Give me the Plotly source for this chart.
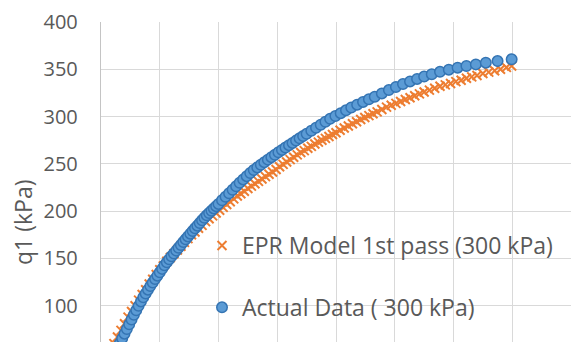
import plotly.graph_objects as go

# Actual Data (300 kPa)
actual_x = [0.32, 0.36, 0.40, 0.44, 0.48, 0.52, 0.56, 0.60, 0.64, 0.68, 0.72, 0.76,
            0.80, 0.84, 0.88, 0.92, 0.96, 1.00, 1.04, 1.08, 1.12, 1.16, 1.20, 1.24,
            1.28, 1.32, 1.36, 1.40, 1.44, 1.48, 1.52, 1.56, 1.60, 1.64, 1.68, 1.72,
            1.76, 1.80, 1.84, 1.88, 1.92, 1.96, 2.00, 2.06, 2.12, 2.18, 2.24, 2.30,
            2.36, 2.42, 2.48, 2.54, 2.60, 2.66, 2.72, 2.78, 2.84, 2.90, 2.96, 3.02,
            3.08, 3.14, 3.20, 3.26, 3.32, 3.38, 3.44, 3.50, 3.58, 3.66, 3.74, 3.82,
            3.90, 3.99, 4.08, 4.17, 4.26, 4.36, 4.46, 4.56, 4.66, 4.78, 4.90, 5.02,
            5.14, 5.26, 5.38, 5.50, 5.63, 5.77, 5.92, 6.07, 6.22, 6.38, 6.55, 6.75,
            6.99]
actual_y = [60.5, 65.5, 70.5, 75.5, 80.5, 85.5, 90.5, 95.2, 99.9, 104.6, 109, 113,
            117, 120.8, 124.5, 128.2, 131.8, 135.4, 139, 142.8, 146, 149.2, 152.3, 155.3,
            158.3, 161.3, 164.3, 167.3, 170.3, 173.3, 176.2, 179, 181.9, 184.7, 187.5, 190.3,
            193, 195.6, 198.1, 200.5, 202.9, 205.3, 207.7, 211.5, 215.3, 219, 222.7, 226.4,
            230.1, 233.6, 237, 240.4, 243.5, 246.3, 249.1, 251.8, 254.5, 257.1, 259.7, 262.3,
            264.8, 267.3, 269.8, 272.2, 274.6, 277, 279.4, 281.8, 285, 288.2, 291.4, 294.6,
            297.6, 300.6, 303.6, 306.6, 309.6, 312.6, 315.5, 318.3, 321, 324.5, 328, 331.3,
            334.4, 337.2, 339.8, 342.3, 344.8, 347.3, 349.6, 351.7, 353.5, 355.2, 357, 358.7,
            360.5]

# EPR Model 1st pass (300 kPa)
model_x = [0.22, 0.28, 0.34, 0.40, 0.46, 0.52, 0.58, 0.64, 0.70, 0.76, 0.82, 0.88,
           0.94, 1.00, 1.06, 1.12, 1.18, 1.24, 1.30, 1.36, 1.42, 1.48, 1.54, 1.60,
           1.66, 1.72, 1.78, 1.84, 1.90, 1.96, 2.02, 2.08, 2.14, 2.20, 2.26, 2.32,
           2.38, 2.44, 2.50, 2.56, 2.62, 2.68, 2.74, 2.80, 2.86, 2.92, 2.98, 3.04,
           3.10, 3.16, 3.22, 3.28, 3.34, 3.40, 3.46, 3.52, 3.58, 3.64, 3.70, 3.76,
           3.82, 3.88, 3.94, 4.00, 4.07, 4.14, 4.21, 4.28, 4.35, 4.42, 4.49, 4.56,
           4.63, 4.70, 4.78, 4.86, 4.94, 5.02, 5.10, 5.18, 5.26, 5.34, 5.42, 5.50,
           5.59, 5.68, 5.77, 5.86, 5.95, 6.04, 6.13, 6.22, 6.31, 6.40, 6.50, 6.60,
           6.70, 6.80, 6.90, 6.99]
model_y = [60, 67, 74, 81, 88, 94, 100, 106, 112, 117, 123, 128,
           133, 138, 142, 147, 151, 155, 159, 163, 167, 171, 175, 178,
           182, 185, 189, 192, 195, 198, 201, 204, 207, 210, 213, 216,
           218.5, 221, 224, 226.5, 229, 231.5, 234, 236.5, 239, 241.5, 244, 247,
           249.5, 252, 254.5, 257, 259.5, 262, 264, 266.5, 268.5, 271, 273, 275,
           277, 279, 281, 283, 285.5, 288, 290, 292.5, 294.5, 297, 299, 301,
           303, 305, 307.5, 310, 312, 314, 316, 318, 320, 322, 324, 326,
           328, 330, 332, 333.5, 335, 337, 338.5, 340.5, 342, 343.5, 345.5, 347,
           348.5, 350, 352, 353.5]

y_title = "q1 (kPa)"
FONT = "Open Sans"
GRAY = "#595959"

fig = go.Figure()
fig.add_trace(go.Scatter(
    x=model_x, y=model_y, mode="markers", name="EPR Model 1st pass (300 kPa)",
    legendgroup="m",
    marker=dict(symbol="x-thin", size=9, color="#ed7d31",
                line=dict(color="#ed7d31", width=2)),
))
fig.add_trace(go.Scatter(
    x=actual_x, y=actual_y, mode="markers", name="Actual Data ( 300 kPa)",
    legendgroup="a",
    marker=dict(symbol="circle", size=10.5, color="#5b9bd5",
                line=dict(color="#3474b3", width=1.5)),
))

fig.update_layout(
    width=571, height=342,
    margin=dict(l=101, r=0, t=22, b=0),
    paper_bgcolor="white", plot_bgcolor="white",
    font=dict(family=FONT, color=GRAY),
    legend=dict(
        x=(202 - 101) / 470, xanchor="left",
        y=(342 - 224) / 320, yanchor="top",
        bgcolor="rgba(0,0,0,0)",
        font=dict(family=FONT, size=23, color=GRAY),
        traceorder="grouped", tracegroupgap=29,
    ),
    xaxis=dict(range=[0, 8], dtick=1, tick0=0, showgrid=True,
               gridcolor="#d9d9d9", gridwidth=1.4, zeroline=False,
               showticklabels=False, showline=False),
    yaxis=dict(range=[61.7, 400], dtick=50, tick0=0, showgrid=True,
               gridcolor="#d9d9d9", gridwidth=1.4, zeroline=False,
               showline=True, linecolor="#c4c4c4", linewidth=1.4,
               tickfont=dict(family=FONT, size=20, color=GRAY),
               ticklabelstandoff=18),
    annotations=[dict(
        text=y_title, textangle=-90, showarrow=False,
        xref="paper", yref="paper",
        x=(23 - 101) / 470, y=(342 - 223) / 320,
        xanchor="center", yanchor="middle",
        font=dict(family=FONT, size=23, color=GRAY),
    )],
    showlegend=True,
)

fig.write_html("out.html")
